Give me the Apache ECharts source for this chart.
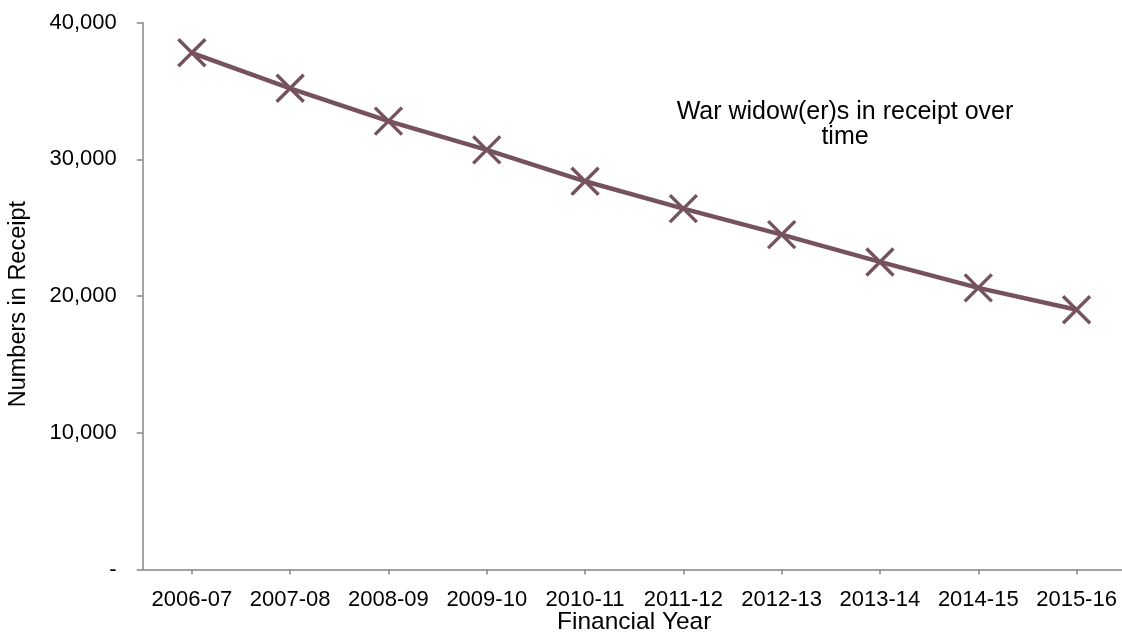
<!DOCTYPE html>
<html>
<head>
<meta charset="utf-8">
<title>War widow(er)s in receipt over time</title>
<script src="https://cdn.jsdelivr.net/npm/echarts@6/dist/echarts.min.js"></script>
<style>
  html, body { margin: 0; padding: 0; background: #ffffff; overflow: hidden; }
  #chart { width: 1122px; height: 641px; }
</style>
</head>
<body>
<div id="chart"></div>
<script>
// Financial years on the category axis
const years = ['2006-07', '2007-08', '2008-09', '2009-10', '2010-11',
               '2011-12', '2012-13', '2013-14', '2014-15', '2015-16'];
// War widow(er)s in receipt at each year
const numbersInReceipt = [37800, 35200, 32800, 30700, 28400,
                          26400, 24500, 22500, 20600, 19000];
// Value axis ticks
const yTicks = [0, 10000, 20000, 30000, 40000];

const FONT = "'Liberation Sans', Arial, sans-serif";
const LINE = '#76525f';
const AXIS = '#868686';

const chart = echarts.init(document.getElementById('chart'), null, { renderer: 'canvas' });

chart.setOption({
  animation: false,
  backgroundColor: '#ffffff',
  title: {
    text: 'War widow(er)s in receipt over\ntime',
    left: 840,
    top: 95,
    textAlign: 'center',
    textStyle: {
      fontFamily: FONT,
      fontSize: 25,
      fontWeight: 'normal',
      color: '#000000',
      lineHeight: 25
    }
  },
  grid: {
    left: 142.7,
    right: -3.7,
    top: 22.7,
    bottom: 71.5,
    containLabel: false,
    outerBoundsMode: 'none'
  },
  xAxis: {
    type: 'category',
    data: years,
    boundaryGap: true,
    name: 'Financial Year',
    nameLocation: 'middle',
    nameGap: 40,
    nameMoveOverlap: false,
    nameTextStyle: { fontFamily: FONT, fontSize: 24.5, color: '#000000' },
    axisLine: { show: true, lineStyle: { color: AXIS, width: 1.5 } },
    axisTick: { show: true, alignWithLabel: true, length: 5, lineStyle: { color: AXIS, width: 1.5 } },
    axisLabel: { fontFamily: FONT, fontSize: 22, color: '#000000', margin: 19, interval: 0 },
    splitLine: { show: false }
  },
  yAxis: {
    type: 'value',
    min: yTicks[0],
    max: yTicks[yTicks.length - 1],
    interval: yTicks[1] - yTicks[0],
    name: 'Numbers in Receipt',
    nameLocation: 'middle',
    nameRotate: 90,
    nameGap: 112,
    nameTextStyle: { fontFamily: FONT, fontSize: 23.5, color: '#000000', padding: [0, 16, 0, 0] },
    axisLine: { show: true, lineStyle: { color: AXIS, width: 1.5 } },
    axisTick: { show: true, length: 6, lineStyle: { color: AXIS, width: 1.5 } },
    axisLabel: {
      fontFamily: FONT,
      fontSize: 22,
      color: '#000000',
      margin: 26,
      formatter: v => v === 0 ? '-' : v.toLocaleString('en-US')
    },
    splitLine: { show: false }
  },
  series: [{
    type: 'line',
    data: numbersInReceipt,
    showAllSymbol: true,
    symbol: 'path://M0,0L10,10M10,0L0,10',
    symbolSize: 27,
    lineStyle: { color: LINE, width: 4.5 },
    itemStyle: { color: LINE, borderColor: LINE, borderWidth: 3.4 },
    z: 3
  }]
});
</script>
</body>
</html>
